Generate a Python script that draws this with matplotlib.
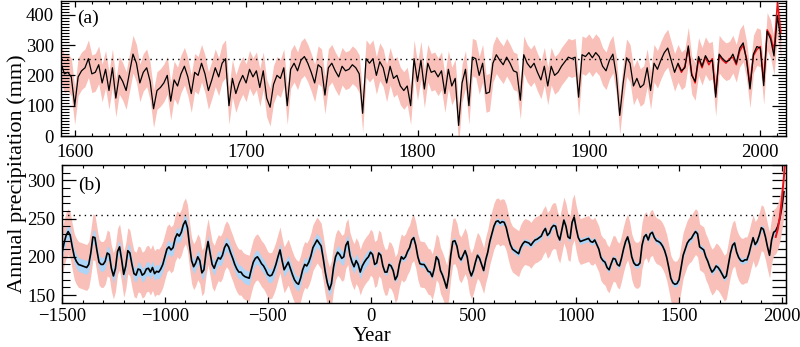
import matplotlib.pyplot as plt
import numpy as np
from matplotlib.ticker import MultipleLocator

plt.rcParams['font.family'] = ['Liberation Serif', 'DejaVu Serif']

# (a) annual precipitation reconstruction, read every second year (mm)
years_a = np.arange(1592, 2013, 2)
recon_a = [
    240, 205, 210, 195,
    100, 195, 215, 225, 255, 205, 210, 235, 175, 220,
    150, 225, 125, 200, 180, 150, 210, 270, 240, 175,
    210, 225, 180, 90, 150, 160, 175, 200, 115, 185,
    165, 205, 230, 195, 140, 210, 200, 240, 205, 150,
    185, 225, 195, 240, 255, 100, 190, 140, 175, 200,
    175, 220, 195, 215, 160, 215, 125, 95, 170, 200,
    190, 225, 100, 220, 240, 215, 250, 262, 240, 210,
    175, 235, 225, 135, 225, 240, 215, 195, 230, 215,
    220, 235, 225, 205, 75, 255, 240, 255, 200, 245,
    225, 175, 230, 190, 200, 165, 150, 165, 100, 255,
    180, 250, 155, 240, 210, 215, 195, 215, 140, 220,
    165, 190, 35, 175, 220, 100, 260, 255, 200, 240,
    140, 145, 240, 268, 250, 235, 260, 240, 215, 210,
    118, 268, 240, 225, 240, 210, 185, 230, 165, 230,
    200, 210, 230, 245, 260, 255, 260, 128, 268, 262,
    275, 258, 275, 262, 230, 215, 250, 270, 200, 68,
    175, 258, 240, 165, 190, 160, 170, 225, 150, 240,
    220, 250, 275, 290, 250, 210, 240, 215, 225, 297,
    200, 180, 262, 230, 265, 245, 250, 128, 270, 255,
    245, 250, 270, 240, 290, 307, 250, 155, 270, 295,
    290, 166, 345, 320, 264, 395, 318,
]
# instrumental record
years_obs_a = np.arange(1952, 2013, 2)
obs_a = [
    235, 210, 230, 290, 205, 175, 255, 225, 260, 235,
    255, 140, 265, 250, 240, 255, 260, 235, 280, 300,
    255, 170, 265, 285, 295, 180, 350, 330, 280, 440, 340,
]
band_a = 62  # half-width of the uncertainty range

# (b) smoothed reconstruction, read every 10 years (mm)
years_b = np.arange(-1500, 2011, 10)
recon_b = [
    205, 218, 228, 233, 228, 213, 200, 194, 190, 189,
    188, 187, 186, 190, 205, 226, 225, 208, 193, 190,
    190, 194, 205, 203, 185, 175, 185, 207, 213, 196,
    177, 188, 208, 205, 190, 178, 176, 184, 183, 176,
    178, 184, 185, 180, 186, 178, 181, 180, 184, 190,
    200, 210, 213, 209, 212, 224, 230, 227, 232, 242,
    247, 238, 215, 195, 187, 192, 200, 195, 179, 183,
    205, 220, 205, 190, 185, 193, 199, 197, 202, 212,
    217, 213, 205, 198, 190, 184, 180,
    180, 176, 174, 173, 172, 183, 193, 198, 200, 196,
    191, 188, 183, 177, 175, 176, 182, 190, 200, 209,
    195, 183, 188, 193, 185, 177, 170, 166, 164, 172,
    183, 190, 188, 193, 201, 212, 217, 222, 218, 214,
    198, 180, 166, 157, 165, 186, 200, 206, 203, 198,
    200, 215, 220, 202, 193, 187, 195, 190, 180, 188,
    193, 197, 200, 206, 203, 190, 192, 205, 202, 188,
    180, 180, 190, 188, 182, 170, 175, 190, 200, 197,
    200, 207, 212, 222, 225, 215, 200, 191, 190, 190,
    186, 181,
    180, 174, 185, 200, 196, 182, 176, 168, 159, 175,
    202, 220, 221, 214, 200, 196, 202, 208, 200, 183,
    175, 182, 193, 202, 198, 190, 182, 196, 206, 220,
    230, 240, 246, 247, 244, 246, 245, 238, 226, 216,
    210, 208, 206, 204, 212, 217, 220, 219, 218, 215,
    219, 222, 223, 225, 227, 233, 237, 228, 231, 238,
    241, 240, 228, 222, 235, 248, 240, 226, 224, 245,
    252, 237, 225, 220, 221, 222, 223, 224, 220, 219,
    222, 216, 210, 199, 195, 193, 186, 183, 191, 198,
    197, 190, 188, 198, 210, 220, 226, 216, 200, 192,
    189, 189, 192, 215, 226, 229, 222, 230, 232, 225,
    221, 220, 218, 214, 208, 199, 186, 172, 166, 164,
    165, 170, 186, 202, 210, 218, 222, 224, 229, 233,
    230, 213, 211, 209, 200, 194, 186, 180, 183, 188,
    186, 182, 177, 172, 175, 190, 205, 215, 218, 206,
    199, 195, 194, 196, 196, 204, 215, 225, 216, 220,
    228, 238, 236, 226, 213, 202, 222, 232, 234, 240,
    250, 265, 285,
]
years_obs_b = [1970, 1980, 1990, 2000, 2010, 2016]
obs_b = [226, 236, 252, 276, 305, 330]
band_b = 30          # outer range
band_b_inner = np.where(years_b < 0, 9, 4)   # inner range

mean_level = 255

pink = '#f8c0b8'
blue = '#acd5f7'

fig = plt.figure(figsize=(8, 3.47), dpi=100)
ax_a = fig.add_axes([0.07625, 0.608, 0.90625, 0.389])
ax_b = fig.add_axes([0.0775, 0.1277, 0.905, 0.3968])


def style_axes(ax, xpad):
    ax.tick_params(which='both', direction='in', top=True, right=True,
                   labelsize=13.5, colors='black')
    ax.tick_params(axis='y', which='major', length=10, width=0.9, pad=5)
    ax.tick_params(axis='y', which='minor', length=5.5, width=0.8)
    ax.tick_params(axis='x', which='major', length=4, width=0.9, pad=xpad)
    ax.tick_params(axis='x', which='minor', length=2.5, width=0.8)
    for s in ax.spines.values():
        s.set_linewidth(1.0)


# panel (a)
recon_a = np.array(recon_a)
ax_a.fill_between(years_a, recon_a - band_a, recon_a + band_a,
                  color=pink, lw=0)
ax_a.axhline(mean_level, color='black', lw=1.0, ls=(0, (1, 3)))
ax_a.plot(years_obs_a, obs_a, color='#e8141a', lw=1.1)
ax_a.plot(years_a, recon_a, color='black', lw=0.9)
ax_a.set_xlim(1592, 2015)
ax_a.set_ylim(0, 445)
ax_a.xaxis.set_major_locator(MultipleLocator(100))
ax_a.xaxis.set_minor_locator(MultipleLocator(10))
ax_a.yaxis.set_major_locator(MultipleLocator(100))
ax_a.yaxis.set_minor_locator(MultipleLocator(10))
style_axes(ax_a, 6)
ax_a.text(0.022, 0.935, '(a)', transform=ax_a.transAxes, fontsize=14,
          va='top', ha='left')

# panel (b)
recon_b = np.array(recon_b)
ax_b.fill_between(years_b, recon_b - band_b, recon_b + band_b,
                  color=pink, lw=0)
ax_b.fill_between(years_b, recon_b - band_b_inner, recon_b + band_b_inner,
                  color=blue, lw=0)
ax_b.axhline(mean_level, color='black', lw=1.0, ls=(0, (1, 3)))
ax_b.plot(years_b, recon_b, color='black', lw=1.2)
ax_b.plot(years_obs_b, obs_b, color='#e8141a', lw=1.4)
ax_b.set_xlim(-1500, 2020)
ax_b.set_ylim(140, 320)
ax_b.xaxis.set_major_locator(MultipleLocator(500))
ax_b.xaxis.set_minor_locator(MultipleLocator(100))
ax_b.yaxis.set_major_locator(MultipleLocator(50))
ax_b.yaxis.set_minor_locator(MultipleLocator(10))
style_axes(ax_b, 4)
# right-hand axis of (b): equal ticks every 10 mm
ax_b.tick_params(axis='y', which='both', right=False)
rb = ax_b.secondary_yaxis('right')
rb.yaxis.set_major_locator(MultipleLocator(10))
rb.tick_params(axis='y', direction='in', length=10, width=0.9,
               labelright=False)
ax_b.text(0.022, 0.915, '(b)', transform=ax_b.transAxes, fontsize=14,
          va='top', ha='left')

fig.text(0.022, 0.5, 'Annual precipitation (mm)', rotation=90,
         fontsize=16, ha='center', va='center')
fig.text(0.465, 0.004, 'Year', fontsize=15, ha='center', va='bottom')

fig.savefig('out.png', dpi=100)
